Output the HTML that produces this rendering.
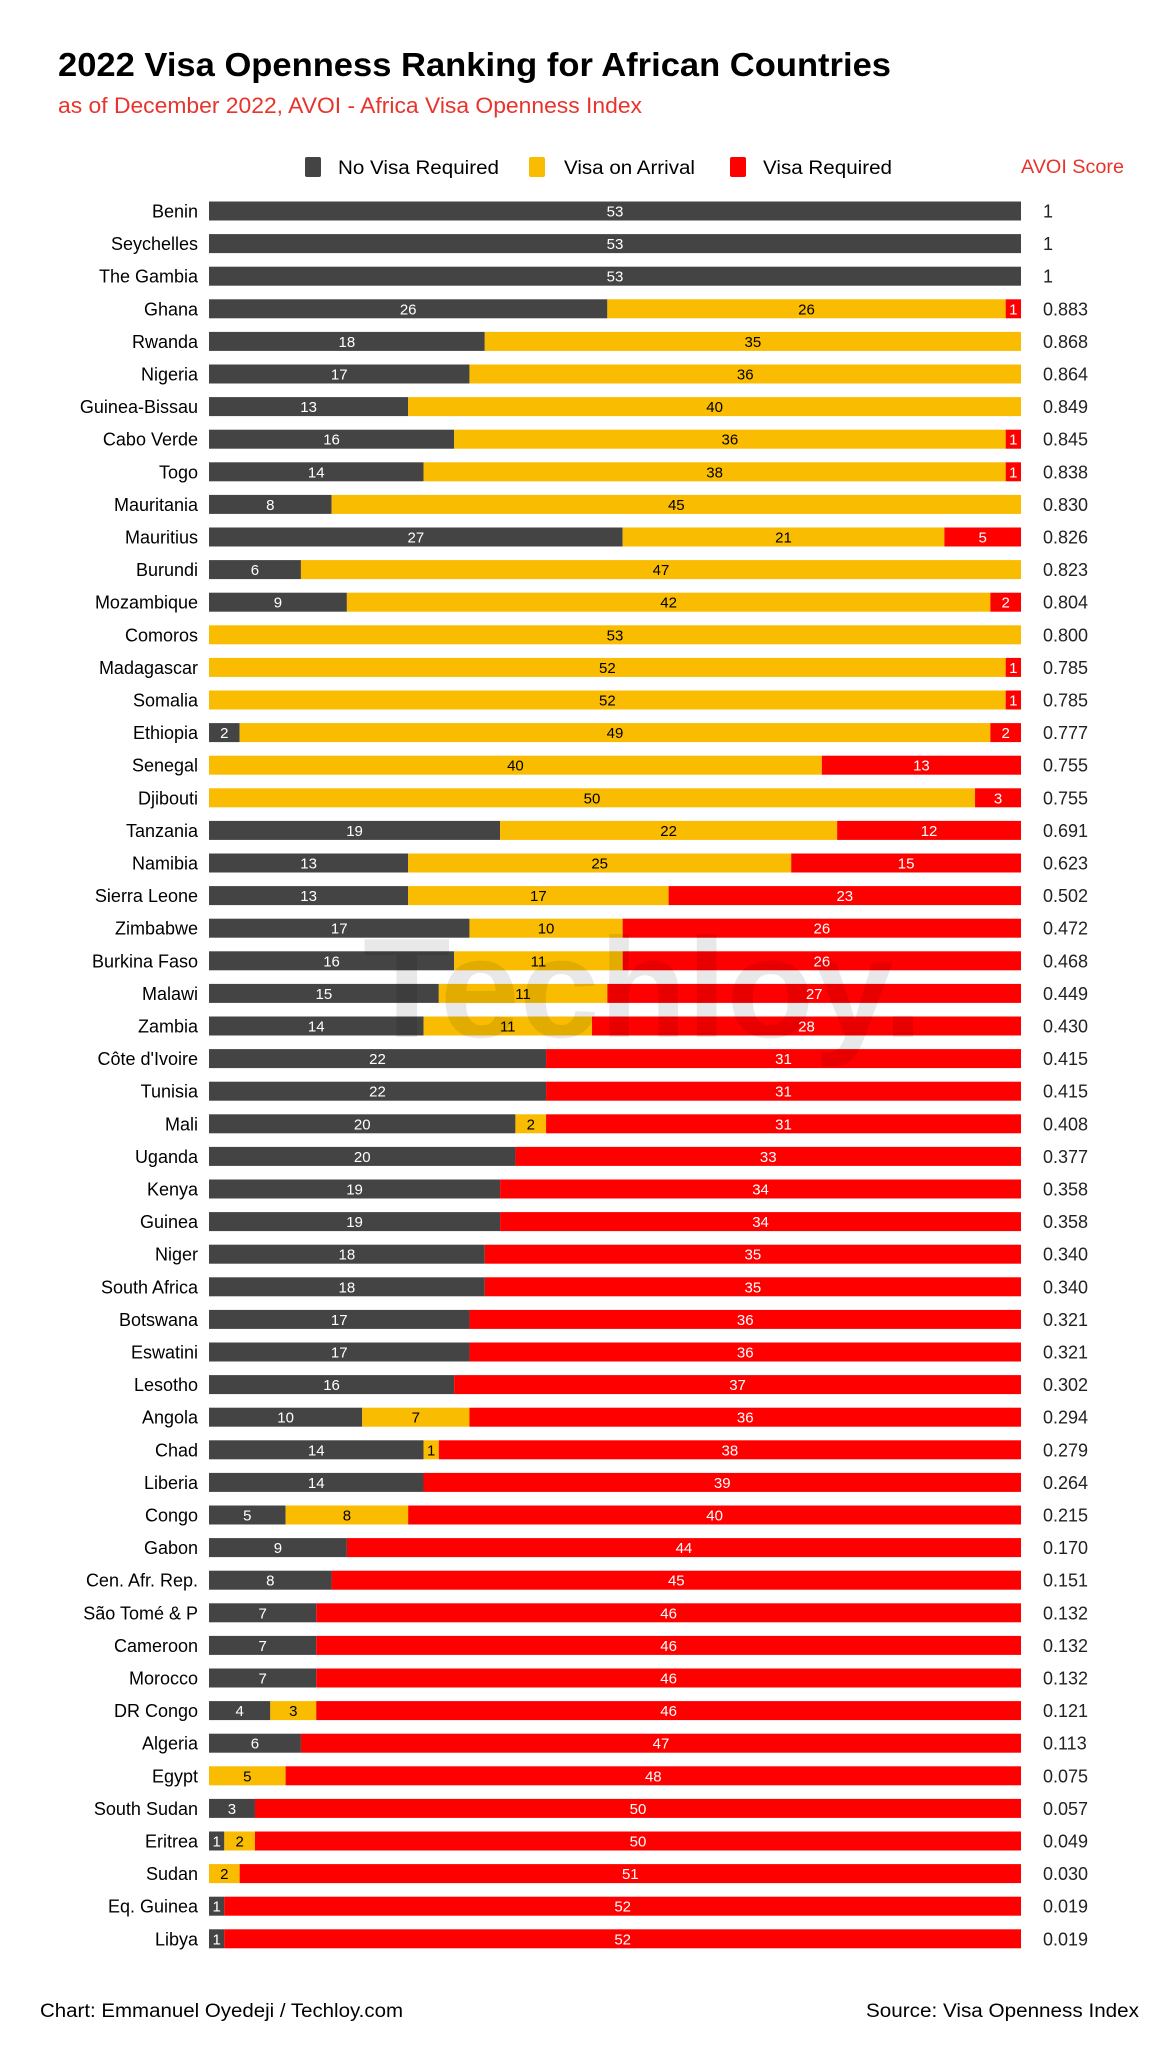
<!DOCTYPE html>
<html><head><meta charset="utf-8"><style>
html,body{margin:0;padding:0;background:#fff;}
svg{display:block;font-family:"Liberation Sans",Arial,sans-serif;}
</style></head><body>
<svg id="chart" width="1158" height="2048" viewBox="0 0 1158 2048" xmlns="http://www.w3.org/2000/svg">
<rect width="1158" height="2048" fill="#fff"/>
<text x="58" y="76" font-size="33" font-weight="bold" fill="#000" textLength="833" lengthAdjust="spacingAndGlyphs">2022 Visa Openness Ranking for African Countries</text>
<text x="58" y="113" font-size="22" fill="#e8342c" textLength="584" lengthAdjust="spacingAndGlyphs">as of December 2022, AVOI - Africa Visa Openness Index</text>
<g>
<rect x="305" y="157" width="16" height="20" rx="2" fill="#444"/>
<text x="338" y="174" font-size="19" fill="#000" textLength="161" lengthAdjust="spacingAndGlyphs">No Visa Required</text>
<rect x="529" y="157" width="16" height="20" rx="2" fill="#F9BC00"/>
<text x="564" y="174" font-size="19" fill="#000" textLength="131" lengthAdjust="spacingAndGlyphs">Visa on Arrival</text>
<rect x="730" y="157" width="16" height="20" rx="2" fill="#FF0000"/>
<text x="763" y="174" font-size="19" fill="#000" textLength="129" lengthAdjust="spacingAndGlyphs">Visa Required</text>
<text x="1021" y="173" font-size="19" fill="#e8342c" textLength="103" lengthAdjust="spacingAndGlyphs">AVOI Score</text>
</g>
<g id="rows"></g>
<text x="363" y="1037" font-size="142" font-weight="bold" fill="rgba(0,0,0,0.09)" textLength="560" lengthAdjust="spacingAndGlyphs">Techloy.</text>
<text x="40" y="2017" font-size="19" fill="#000" textLength="363" lengthAdjust="spacingAndGlyphs">Chart: Emmanuel Oyedeji / Techloy.com</text>
<text x="1139" y="2017" font-size="19" fill="#000" text-anchor="end" textLength="273" lengthAdjust="spacingAndGlyphs">Source: Visa Openness Index</text>
</svg>
<script>
const countries=["Benin","Seychelles","The Gambia","Ghana","Rwanda","Nigeria","Guinea-Bissau","Cabo Verde","Togo","Mauritania","Mauritius","Burundi","Mozambique","Comoros","Madagascar","Somalia","Ethiopia","Senegal","Djibouti","Tanzania","Namibia","Sierra Leone","Zimbabwe","Burkina Faso","Malawi","Zambia","Côte d'Ivoire","Tunisia","Mali","Uganda","Kenya","Guinea","Niger","South Africa","Botswana","Eswatini","Lesotho","Angola","Chad","Liberia","Congo","Gabon","Cen. Afr. Rep.","São Tomé & P","Cameroon","Morocco","DR Congo","Algeria","Egypt","South Sudan","Eritrea","Sudan","Eq. Guinea","Libya"];
const noVisa=[53,53,53,26,18,17,13,16,14,8,27,6,9,0,0,0,2,0,0,19,13,13,17,16,15,14,22,22,20,20,19,19,18,18,17,17,16,10,14,14,5,9,8,7,7,7,4,6,0,3,1,0,1,1];
const onArrival=[0,0,0,26,35,36,40,36,38,45,21,47,42,53,52,52,49,40,50,22,25,17,10,11,11,11,0,0,2,0,0,0,0,0,0,0,0,7,1,0,8,0,0,0,0,0,3,0,5,0,2,2,0,0];
const required=[0,0,0,1,0,0,0,1,1,0,5,0,2,0,1,1,2,13,3,12,15,23,26,26,27,28,31,31,31,33,34,34,35,35,36,36,37,36,38,39,40,44,45,46,46,46,46,47,48,50,50,51,52,52];
const scores=["1","1","1","0.883","0.868","0.864","0.849","0.845","0.838","0.830","0.826","0.823","0.804","0.800","0.785","0.785","0.777","0.755","0.755","0.691","0.623","0.502","0.472","0.468","0.449","0.430","0.415","0.415","0.408","0.377","0.358","0.358","0.340","0.340","0.321","0.321","0.302","0.294","0.279","0.264","0.215","0.170","0.151","0.132","0.132","0.132","0.121","0.113","0.075","0.057","0.049","0.030","0.019","0.019"];
const NS="http://www.w3.org/2000/svg";
const x0=209,x1=1021,total=53;
const xScale=v=>v*(x1-x0)/total;
const yScale=i=>211+i*32.6;
const barH=19;
const g=document.getElementById('rows');
function mk(tag,attrs){const e=document.createElementNS(NS,tag);for(const k in attrs)e.setAttribute(k,attrs[k]);return e;}
countries.forEach((c,i)=>{
  const cy=yScale(i);
  const row=mk('g',{});
  
  
  const lab=mk('text',{x:198,y:cy+6.5,'font-size':18,'text-anchor':'end',fill:'#000'});
  lab.textContent=c;
  
  
  row.appendChild(lab);
  const segs=[[noVisa[i],'#444','#fff','no-visa'],[onArrival[i],'#F9BC00','#000','arrival'],[required[i],'#FF0000','#fff','required']];
  let acc=0;
  segs.forEach(s=>{
    const v=s[0]; if(!v) return;
    const xs=x0+xScale(acc), w=xScale(v);
    const r=mk('rect',{x:xs,y:cy-barH/2,width:w,height:barH,fill:s[1]});
    
    
    row.appendChild(r);
    const t=mk('text',{x:xs+w/2,y:cy+5.5,'font-size':15,'text-anchor':'middle',fill:s[2]});
    t.textContent=v;
    
    
    row.appendChild(t);
    acc+=v;
  });
  const sc=mk('text',{x:1043,y:cy+6.5,'font-size':18,fill:'#222'});
  sc.textContent=scores[i];
  
  
  row.appendChild(sc);
  g.appendChild(row);
});
</script>
</body></html>
